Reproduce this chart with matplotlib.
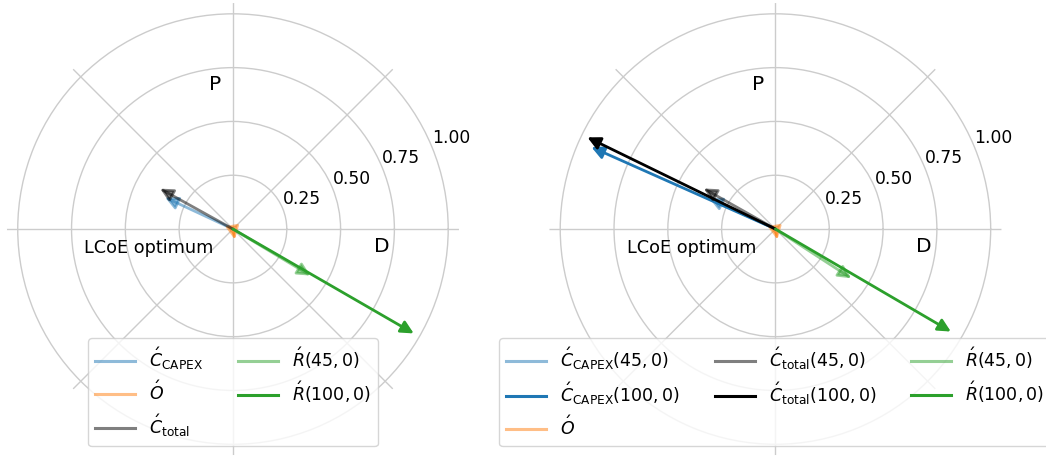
import numpy as np
import matplotlib
matplotlib.use("Agg")
import matplotlib.pyplot as plt

# gradient directions at the LCoE optimum (angle in degrees, length)
left_labels = [r"$\acute{C}_{\mathrm{CAPEX}}$", r"$\acute{O}$", r"$\acute{C}_{\mathrm{total}}$",
               r"$\acute{R}(45,0)$", r"$\acute{R}(100,0)$"]
left_angles = [155, -80, 151, -31, -30]
left_lengths = [0.348, 0.05, 0.387, 0.42, 0.97]
left_colors = ["tab:blue", "tab:orange", "black", "tab:green", "tab:green"]
left_alphas = [0.5, 0.5, 0.5, 0.5, 1.0]

right_labels = [r"$\acute{C}_{\mathrm{CAPEX}}(45,0)$", r"$\acute{C}_{\mathrm{CAPEX}}(100,0)$", r"$\acute{O}$",
                r"$\acute{C}_{\mathrm{total}}(45,0)$", r"$\acute{C}_{\mathrm{total}}(100,0)$",
                r"$\acute{R}(45,0)$", r"$\acute{R}(100,0)$"]
right_angles = [155, 156, -80, 150.5, 154, -33, -30.3]
right_lengths = [0.34, 0.936, 0.05, 0.383, 0.972, 0.42, 0.944]
right_colors = ["tab:blue", "tab:blue", "tab:orange", "black", "black", "tab:green", "tab:green"]
right_alphas = [0.5, 1.0, 0.5, 0.5, 1.0, 0.5, 1.0]

r_ticks = [0.25, 0.5, 0.75, 1.0]
r_ticklabels = ["0.25", "0.50", "0.75", "1.00"]


def draw_panel(ax, labels, angles, lengths, colors, alphas, ncol):
    """Draws arrows from the origin plus grid, annotations and legend"""
    ax.set_ylim(0, 1.05)
    ax.set_rticks(r_ticks)
    ax.set_yticklabels(r_ticklabels, fontsize=12.3)
    ax.set_rlabel_position(22.5)
    ax.set_xticklabels([])
    ax.spines["polar"].set_visible(False)
    ax.grid(True, color="#cccccc", lw=1)
    for lab, ang, length, col, alp in zip(labels, angles, lengths, colors, alphas):
        th = np.deg2rad(ang)
        ax.annotate("", xy=(th, length), xytext=(0, 0),
                    arrowprops=dict(arrowstyle="-|>", color=col, alpha=alp, lw=2,
                                    mutation_scale=19, shrinkA=0, shrinkB=0))
        ax.plot([], [], color=col, alpha=alp, lw=2.2, label=lab)
    ax.text(np.deg2rad(96.9), 0.675, "P", fontsize=14.5, ha="center", va="center")
    ax.text(np.deg2rad(-6.8), 0.695, "D", fontsize=14.5, ha="center", va="center")
    ax.text(np.deg2rad(193), 0.40, "LCoE optimum", fontsize=12.7, ha="center", va="center")
    ax.legend(loc="lower center", ncol=ncol, fontsize=12.5, handlelength=2.3)


fig = plt.figure(figsize=(10.46, 4.57), dpi=100)
ax1 = fig.add_axes([0.00717 - 0.0005, 0.0043, 0.4321, 0.989], projection="polar")
ax2 = fig.add_axes([0.5258 - 0.0005, 0.0043, 0.4321, 0.989], projection="polar")

draw_panel(ax1, left_labels, left_angles, left_lengths, left_colors, left_alphas, 2)
draw_panel(ax2, right_labels, right_angles, right_lengths, right_colors, right_alphas, 3)

fig.savefig("out.png", dpi=100)
